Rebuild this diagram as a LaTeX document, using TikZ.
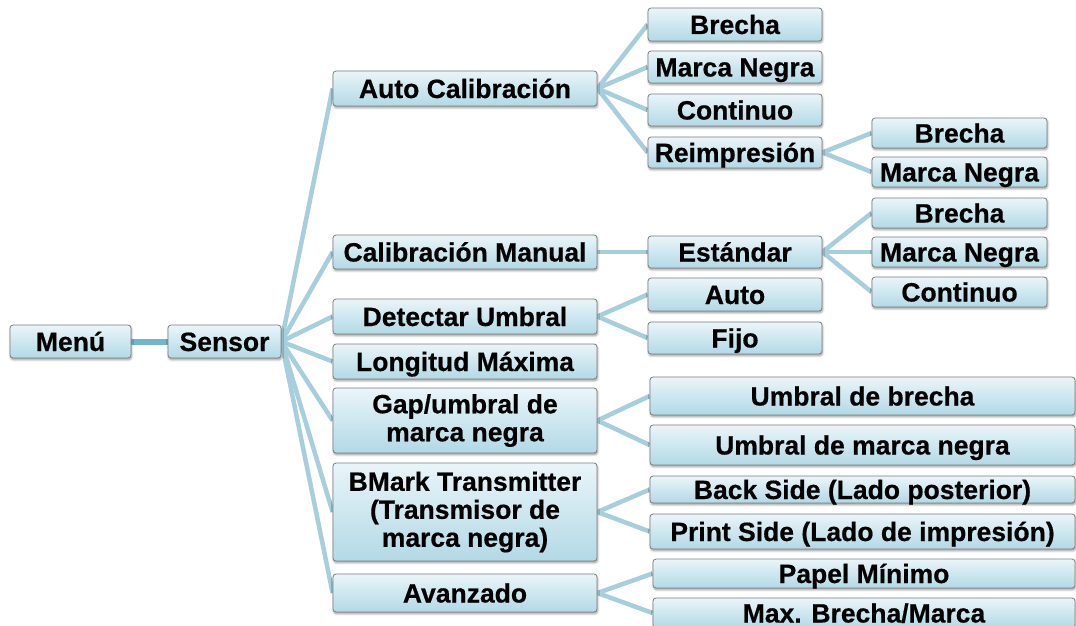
\documentclass[tikz,border=0pt]{standalone}
\usepackage{fontspec}
\setmainfont{Liberation Sans}
\newfontfamily\heavyfont{Liberation Sans Bold}[FakeBold=0.5]
\usetikzlibrary{shadows.blur,backgrounds}
\definecolor{boxtop}{RGB}{234,245,249}
\definecolor{boxbot}{RGB}{178,217,230}
\definecolor{boxedge}{RGB}{125,125,125}
\definecolor{linkc}{RGB}{166,206,220}
\definecolor{mainc}{RGB}{112,182,204}
\begin{document}
\begin{tikzpicture}[x=1pt,y=-1pt,
  nbase/.style={draw=boxedge, line width=0.8pt, rounded corners=3pt,
    top color=boxtop, bottom color=boxbot, inner sep=0pt,
    font=\heavyfont\fontsize{26.5}{28}\selectfont,
    blur shadow={shadow blur steps=5, shadow xshift=0.6pt, shadow yshift=-1.8pt, shadow opacity=40}},
  nbox/.style={nbase, text height=19pt, text depth=0pt},
  nboxm/.style={nbase, align=center},
  sz/.style 2 args={minimum width=#1pt, minimum height=#2pt},
  link/.style={draw=linkc, line width=4.5pt},
  mainlink/.style={draw=mainc, line width=6pt}]

\useasboundingbox (0,0) rectangle (1076,626);

% level 0/1
\node[nbox, sz={121}{33}] (menu) at (70.5,341.5) {Menú};
\node[nbox, sz={113}{33}] (sensor) at (224.5,341.5) {Sensor};

% level 2
\node[nbox, sz={264}{35}] (autocal) at (465,88.5) {Auto Calibración};
\node[nbox, sz={264}{34}] (calman) at (465,252) {Calibración Manual};
\node[nbox, sz={264}{35}] (detect) at (465,316.5) {Detectar Umbral};
\node[nbox, sz={264}{35}] (longmax) at (465,361.5) {Longitud Máxima};
\node[nboxm, sz={264}{65}] (gap) at (465,420.5) {Gap/umbral de\\marca negra};
\node[nboxm, sz={264}{98}] (bmark) at (465,512) {BMark Transmitter\\(Transmisor de\\marca negra)};
\node[nbox, sz={264}{38}] (avanz) at (465,593) {Avanzado};

% level 3
\node[nbox, sz={174}{33}] (brecha1) at (735,24.5) {Brecha};
\node[nbox, sz={174}{32}] (marca1) at (735,67) {Marca Negra};
\node[nbox, sz={174}{32}] (contin1) at (735,110) {Continuo};
\node[nbox, sz={174}{31}] (reimp) at (735,152.5) {Reimpresión};
\node[nbox, sz={174}{32}] (estandar) at (735,252) {Estándar};
\node[nbox, sz={174}{33}] (auto) at (735,294.5) {Auto};
\node[nbox, sz={174}{32}] (fijo) at (735,338) {Fijo};

% level 4
\node[nbox, sz={175}{30}] (brecha2) at (959.5,133) {Brecha};
\node[nbox, sz={175}{30}] (marca2) at (959.5,172) {Marca Negra};
\node[nbox, sz={175}{30}] (brecha3) at (959.5,213) {Brecha};
\node[nbox, sz={175}{30}] (marca3) at (959.5,252) {Marca Negra};
\node[nbox, sz={175}{30}] (contin3) at (959.5,292) {Continuo};

% wide level 3
\node[nbox, sz={425}{38}] (umbrecha) at (862.5,396) {Umbral de brecha};
\node[nbox, sz={425}{40}] (ummarca) at (862.5,445) {Umbral de marca negra};
\node[nbox, sz={425}{27}] (backside) at (862.5,489.5) {Back Side (Lado posterior)};
\node[nbox, sz={425}{35}] (printside) at (862.5,531.5) {Print Side (Lado de impresión)};
\node[nbox, sz={422}{29}] (papel) at (864,573.5) {Papel Mínimo};
\node[nbox, sz={422}{30}] (maxb) at (864,613) {Max. Brecha/Marca};

\begin{scope}[on background layer]
  \draw[mainlink] (menu.east) -- (sensor.west);
  \foreach \c in {autocal,calman,detect,longmax,gap,bmark,avanz}
    \draw[link] (sensor.east) -- (\c.west);
  \foreach \c in {brecha1,marca1,contin1,reimp}
    \draw[link] (autocal.east) -- (\c.west);
  \foreach \c in {brecha2,marca2}
    \draw[link] (reimp.east) -- (\c.west);
  \draw[link] (calman.east) -- (estandar.west);
  \foreach \c in {brecha3,marca3,contin3}
    \draw[link] (estandar.east) -- (\c.west);
  \foreach \c in {auto,fijo}
    \draw[link] (detect.east) -- (\c.west);
  \foreach \c in {umbrecha,ummarca}
    \draw[link] (gap.east) -- (\c.west);
  \foreach \c in {backside,printside}
    \draw[link] (bmark.east) -- (\c.west);
  \foreach \c in {papel,maxb}
    \draw[link] (avanz.east) -- (\c.west);
\end{scope}
\end{tikzpicture}
\end{document}
